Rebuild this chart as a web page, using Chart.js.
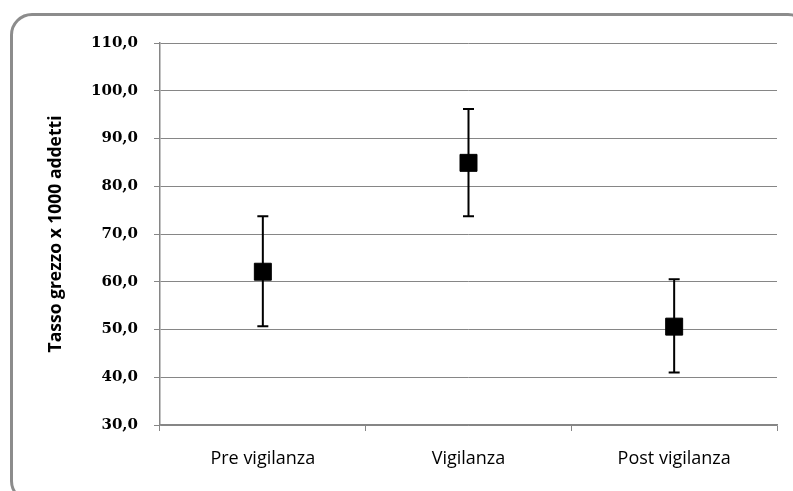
<!DOCTYPE html>
<html>
<head>
<meta charset="utf-8">
<script src="https://cdn.jsdelivr.net/npm/chart.js@4"></script>
<style>
  html, body { margin: 0; padding: 0; background: #fff; overflow: hidden; }
  #wrap { position: relative; width: 793px; height: 491px; }
  #frame { position: absolute; left: 10px; top: 13px; width: 800px; height: 490px;
           border: 3px solid #8c8c8c; border-radius: 22px; box-sizing: border-box; pointer-events: none; }
  canvas { position: absolute; left: 0; top: 0; }
</style>
</head>
<body>
<div id="wrap">
  <canvas id="chart" width="793" height="491"></canvas>
  <div id="frame"></div>
</div>
<script>
// dati
const categorie = ['Pre vigilanza', 'Vigilanza', 'Post vigilanza'];
const tassi = [62.1, 84.9, 50.6];
const limiteInf = [50.7, 73.7, 41.0];
const limiteSup = [73.7, 96.2, 60.5];
const yTicks = [30, 40, 50, 60, 70, 80, 90, 100, 110];

const gridColor = '#868686';

// barre di errore disegnate con le scale del grafico
const barreErrore = {
    id: 'barreErrore',
    beforeDatasetsDraw(chart) {
        const { ctx, scales: { x, y } } = chart;
        ctx.save();
        ctx.strokeStyle = '#000';
        ctx.lineWidth = 2;
        categorie.forEach((c, i) => {
            const px = x.getPixelForValue(i);
            const top = y.getPixelForValue(limiteSup[i]);
            const bot = y.getPixelForValue(limiteInf[i]);
            ctx.beginPath();
            ctx.moveTo(px, top); ctx.lineTo(px, bot);
            ctx.moveTo(px - 5.5, top); ctx.lineTo(px + 5.5, top);
            ctx.moveTo(px - 5.5, bot); ctx.lineTo(px + 5.5, bot);
            ctx.stroke();
        });
        ctx.restore();
    }
};

new Chart(document.getElementById('chart').getContext('2d'), {
    type: 'line',
    data: {
        labels: categorie,
        datasets: [{
            data: tassi,
            showLine: false,
            pointStyle: 'rect',
            pointRadius: 12,
            pointBackgroundColor: '#000',
            pointBorderColor: '#000',
            pointBorderWidth: 1
        }]
    },
    options: {
        responsive: false,
        animation: false,
        layout: { padding: { top: 43, right: 16, left: 0, bottom: 0 } },
        plugins: { legend: { display: false }, tooltip: { enabled: false } },
        scales: {
            x: {
                offset: true,
                grid: { offset: true, drawOnChartArea: false, drawTicks: true, tickLength: 6, color: gridColor },
                border: { color: gridColor, width: 1.5 },
                ticks: { color: '#000', font: { family: 'Open Sans', size: 18 }, padding: 17 },
                afterFit: s => { s.height = 66; }
            },
            y: {
                min: 30, max: 110,
                afterBuildTicks: s => { s.ticks = yTicks.map(v => ({ value: v })); },
                grid: { color: gridColor, lineWidth: 1, tickLength: 6 },
                border: { color: gridColor, width: 1.5 },
                ticks: {
                    color: '#000',
                    font: { family: 'DejaVu Serif', size: 15, weight: 'bold' },
                    padding: 16,
                    callback: v => v.toFixed(1).replace('.', ',')
                },
                title: {
                    display: true,
                    text: 'Tasso grezzo x 1000 addetti',
                    color: '#000',
                    font: { family: 'Open Sans', size: 17.5, weight: 'bold' },
                    padding: { top: 46, bottom: 0 }
                },
                afterFit: s => { s.width = 160; }
            }
        }
    },
    plugins: [barreErrore]
});
</script>
</body>
</html>
